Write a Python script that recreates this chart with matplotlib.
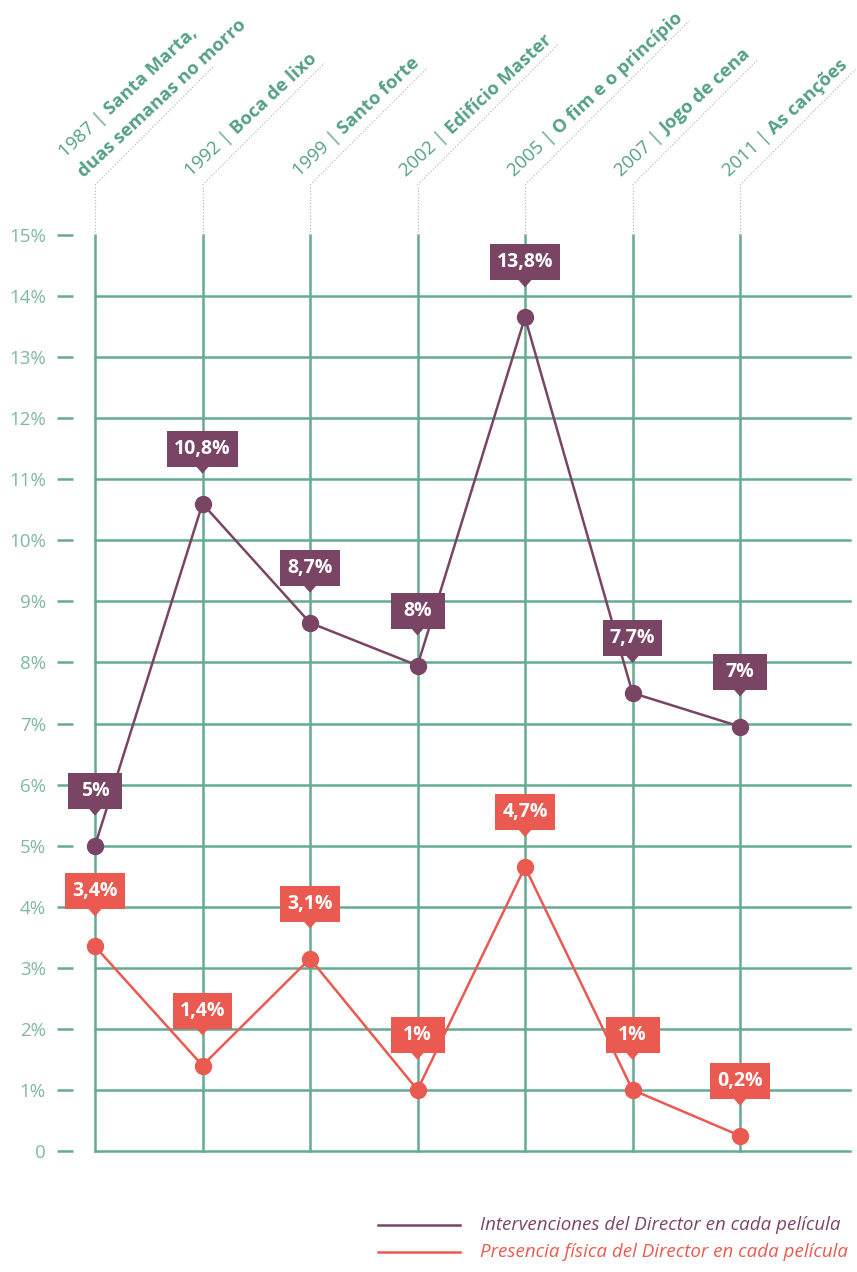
import matplotlib
matplotlib.use("Agg")
import matplotlib.pyplot as plt
import numpy as np
from matplotlib.transforms import IdentityTransform
from matplotlib.patches import Rectangle, Polygon
from matplotlib.lines import Line2D

# ---------------- data ----------------
years = ["1987", "1992", "1999", "2002", "2005", "2007", "2011"]
titles = ["Santa Marta,\nduas semanas no morro", "Boca de lixo", "Santo forte",
          "Edifício Master", "O fim e o princípio", "Jogo de cena", "As canções"]
intervenciones = [5.0, 10.6, 8.65, 7.95, 13.65, 7.5, 6.95]
intervenciones_labels = ["5%", "10,8%", "8,7%", "8%", "13,8%", "7,7%", "7%"]
presencia = [3.35, 1.4, 3.15, 1.0, 4.65, 1.0, 0.25]
presencia_labels = ["3,4%", "1,4%", "3,1%", "1%", "4,7%", "1%", "0,2%"]
y_ticks = list(range(16))
y_tick_labels = ["0"] + [f"{v}%" for v in range(1, 16)]
legend_labels = ["Intervenciones del Director en cada película",
                 "Presencia física del Director en cada película"]

# ---------------- style ----------------
plt.rcParams["font.family"] = ["Open Sans", "DejaVu Sans"]
GRID = "#65ab92"
TICKC = "#80b8a4"
TITLEC = "#55a085"
PURPLE = "#7a4565"
RED = "#ea5a50"
DOT = "#bcbcbc"

W, H = 857, 1272
fig = plt.figure(figsize=(W / 100, H / 100), dpi=100)
ax = fig.add_axes([95 / W, 121 / H, 755 / W, 916 / H])
x = np.arange(len(years))
ax.set_xlim(0, 755 / 107.5)
ax.set_ylim(0, 15)
for s in ax.spines.values():
    s.set_visible(False)
ax.spines["left"].set_position(("outward", 22 * 0.72))
ax.set_xticks([])
ax.set_yticks(y_ticks)
ax.set_yticklabels(y_tick_labels)
ax.tick_params(axis="y", length=11.5, width=1.8, color=GRID, pad=8.0,
               labelsize=13.5, labelcolor=TICKC)

for v in y_ticks[:-1]:
    ax.axhline(v, color=GRID, lw=1.8, zorder=1, clip_on=False)
for xi in x:
    ax.axvline(xi, color=GRID, lw=1.8, zorder=1, clip_on=False)

ax.plot(x, intervenciones, color=PURPLE, lw=1.8, marker="o", ms=11.5,
        clip_on=False, zorder=3)
ax.plot(x, presencia, color=RED, lw=1.8, marker="o", ms=11.5,
        clip_on=False, zorder=3)

renderer = fig.canvas.get_renderer()
ID = IdentityTransform()


def text_width(s, **kw):
    t = fig.text(0, 0, s, transform=ID, **kw)
    w = t.get_window_extent(renderer).width
    t.remove()
    return w


CFS = 14


def callout(xv, yv, label, color):
    px, py = ax.transData.transform((xv, yv))
    bottom = py + 37
    bh = 36
    tw = text_width(label, fontsize=CFS, fontweight="bold")
    bw = max(54, tw + 14)
    fig.add_artist(Rectangle((px - bw / 2, bottom), bw, bh, transform=ID,
                             fc=color, ec="none", zorder=5))
    fig.add_artist(Polygon([[px - 7, bottom + 1], [px + 7, bottom + 1], [px, bottom - 7]],
                           closed=True, transform=ID, fc=color, ec="none", zorder=5))
    fig.text(px, bottom + bh / 2, label, transform=ID, ha="center", va="center",
             color="white", fontsize=CFS, fontweight="bold", zorder=6)


for xi, v, lab in zip(x, intervenciones, intervenciones_labels):
    callout(xi, v, lab, PURPLE)
for xi, v, lab in zip(x, presencia, presencia_labels):
    callout(xi, v, lab, RED)

# ---------------- rotated film labels ----------------
ang = 43
th = np.deg2rad(ang)
dvec = np.array([np.cos(th), np.sin(th)])
nvec = np.array([-np.sin(th), np.cos(th)])
d45 = np.array([np.cos(np.pi / 4), np.sin(np.pi / 4)])
FS = 13.3
for i, (yr, ttl) in enumerate(zip(years, titles)):
    px, py = ax.transData.transform((i, 15))
    corner = np.array([px, py + 50])
    fig.add_artist(Line2D([px, corner[0]], [py, corner[1]], transform=ID,
                          color=DOT, lw=0.9, ls=(0, (1, 1.5)), zorder=2))
    lines = ttl.split("\n")
    n = len(lines)
    maxw = 0
    for k, ln in enumerate(lines):
        perp = 13 + (n - 1 - k) * 27
        start = corner + (-3) * dvec + perp * nvec
        wr = 0
        if k == 0:
            pre = yr + " | "
            fig.text(start[0], start[1], pre, transform=ID, rotation=ang,
                     rotation_mode="anchor", ha="left", va="baseline",
                     fontsize=FS, color=TITLEC, zorder=4)
            wr = text_width(pre, fontsize=FS)
        p2 = start + wr * dvec
        fig.text(p2[0], p2[1], ln, transform=ID, rotation=ang,
                 rotation_mode="anchor", ha="left", va="baseline",
                 fontsize=FS, fontweight="bold", color=TITLEC, zorder=4)
        wb = text_width(ln, fontsize=FS, fontweight="bold")
        maxw = max(maxw, wr + wb)
    L = maxw if n == 1 else maxw * 0.75
    end = corner + L * d45
    fig.add_artist(Line2D([corner[0], end[0]], [corner[1], end[1]], transform=ID,
                          color=DOT, lw=0.9, ls=(0, (1, 1.5)), zorder=2))

# ---------------- legend ----------------
for k, (lab, col) in enumerate(zip(legend_labels, [PURPLE, RED])):
    yy = H - (1225 + 27 * k)
    fig.add_artist(Line2D([378, 460], [yy, yy], transform=ID, color=col, lw=1.8))
    fig.text(480, yy, lab, transform=ID, ha="left", va="center", fontsize=13.5,
             fontstyle="italic", color=col)

fig.savefig("out.png", dpi=100)
